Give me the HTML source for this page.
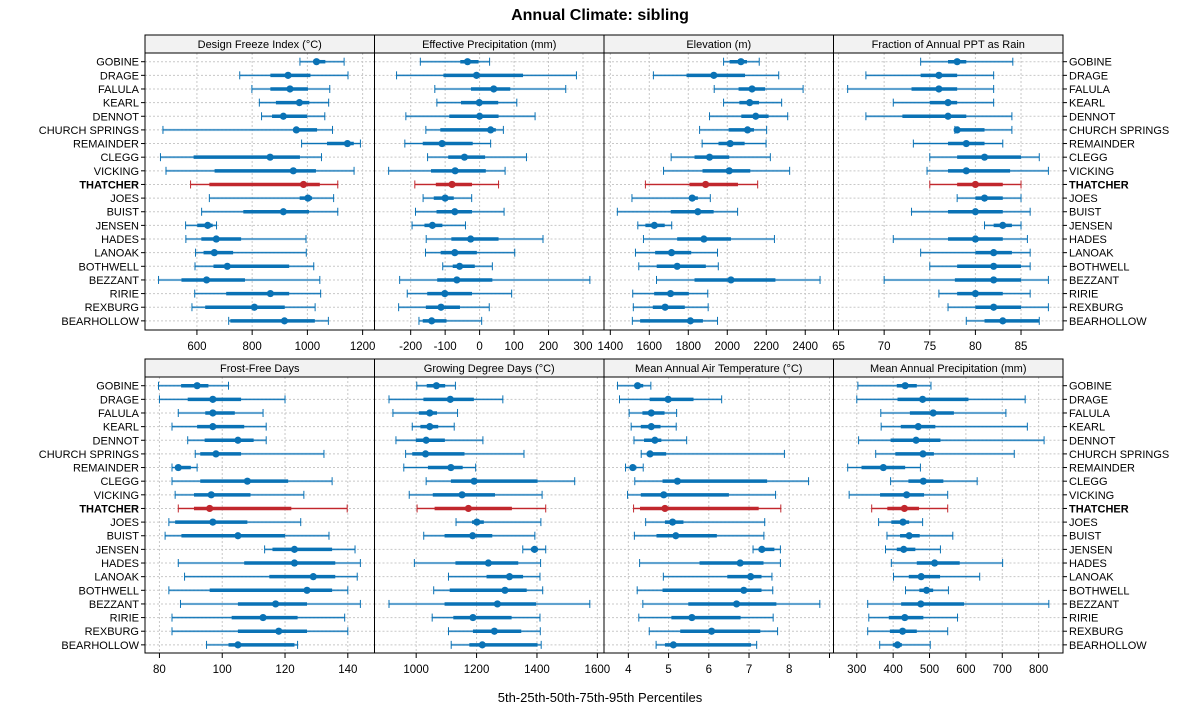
<!DOCTYPE html>
<html><head><meta charset="utf-8"><style>
body{margin:0;background:#fff;}
svg{display:block;font-family:"Liberation Sans",Arial,sans-serif;}
</style></head><body>
<svg id="chart" width="1200" height="725" viewBox="0 0 1200 725">
<text x="600" y="20" text-anchor="middle" font-size="16" font-weight="bold">Annual Climate: sibling</text>
<text x="600" y="702" text-anchor="middle" font-size="13">5th-25th-50th-75th-95th Percentiles</text>
</svg>
<script>
const siteNames = ["GOBINE","DRAGE","FALULA","KEARL","DENNOT","CHURCH SPRINGS","REMAINDER","CLEGG","VICKING","THATCHER","JOES","BUIST","JENSEN","HADES","LANOAK","BOTHWELL","BEZZANT","RIRIE","REXBURG","BEARHOLLOW"];
const highlightSite = "THATCHER";
const panelTitles = ["Design Freeze Index (°C)","Effective Precipitation (mm)","Elevation (m)","Fraction of Annual PPT as Rain","Frost-Free Days","Growing Degree Days (°C)","Mean Annual Air Temperature (°C)","Mean Annual Precipitation (mm)"];
const freezeIndex = [[973,1023,1033,1065,1133],[755,866,930,1011,1147],[799,866,937,1002,1081],[826,886,971,1007,1077],[834,872,913,999,1063],[477,950,960,1035,1091],[979,1071,1145,1168,1192],[468,588,865,973,1051],[488,664,949,1031,1169],[577,645,986,1045,1110],[645,972,1002,1017,1095],[617,768,913,1006,1110],[559,601,639,657,671],[560,616,670,760,995],[595,624,663,731,996],[593,660,710,934,1023],[461,544,635,774,1045],[592,706,866,934,1048],[582,630,808,918,1028],[715,721,917,1027,1076]];
const effPrecip = [[-172,-56,-35,-3,29],[-241,-105,-9,126,281],[-130,-25,41,89,250],[-124,-54,-1,54,108],[-214,-88,0,55,161],[-156,-114,32,47,69],[-217,-165,-109,-20,32],[-151,-91,-44,16,136],[-264,-141,-71,18,74],[-188,-127,-80,-22,55],[-164,-133,-100,-75,-23],[-186,-125,-72,-22,71],[-196,-160,-137,-108,-41],[-155,-82,-26,55,184],[-157,-113,-72,-8,102],[-107,-78,-58,-14,37],[-232,-123,-66,37,320],[-210,-152,-101,-22,93],[-235,-156,-112,-57,28],[-176,-165,-139,-96,6]];
const elevation = [[1981,2012,2070,2101,2164],[1621,1791,1931,2091,2264],[1933,2058,2127,2194,2389],[1981,2062,2115,2163,2279],[1909,2072,2146,2212,2310],[1858,2007,2104,2137,2202],[1871,1955,2015,2089,2199],[1712,1832,1909,2010,2221],[1673,1873,2010,2118,2320],[1580,1806,1889,2055,2156],[1511,1805,1820,1849,1913],[1436,1710,1849,1930,2053],[1541,1580,1626,1679,1715],[1570,1743,1880,2019,2242],[1529,1630,1714,1815,1950],[1546,1638,1743,1890,1954],[1637,1832,2019,2247,2476],[1515,1625,1709,1803,1900],[1518,1618,1681,1782,1902],[1513,1553,1811,1875,1950]];
const fracRain = [[74,77,78,79,84.1],[68,74,76,78,82],[66,73,76,78,82],[71,75,77,78,82],[68,72,77,79,84],[77.75,78,78,81,84],[73.2,77,79,81,83],[75,78,81,85,87],[74.7,77,79,83.8,88],[75,78,80,83,85],[78,80,81,83,85],[73,77,80,83,86],[81,82,83,84,85],[71,77,80,83,85.7],[74,80,82,84,86],[75,78,82,85,86],[70,77.75,82,85,88],[76,78,80,83,86],[77,80,82,85,88],[79,81,83,87,87]];
const frostFree = [[79.7,86.9,92,95.6,102],[80,89,97,106,120],[86,94.6,97,104,113],[84,92,97,107,114],[89,94.4,105,110,114],[91.4,93,98,106,132.4],[84,85,86,90,92],[84,93,108,121,135],[85,91,96.5,109,126],[86,91,96,122,139.8],[83,85,97,108,125],[81.8,87,105,120,134],[113.5,116,123,135,142.3],[86,107,123,136,144],[88,115,129,136,143],[83,96,127,135,140],[86.7,105,117,127,144],[84,103,113,124,139],[84,105,118,127,140],[95,102,105,123,124]];
const gdd = [[1002,1035,1067,1096,1130],[910,1024,1113,1191,1287],[923,1009,1045,1069,1137],[987,1014,1045,1073,1126],[933,999,1033,1095,1221],[965,987,1031,1160,1357],[959,1039,1115,1154,1197],[1033,1115,1192,1402,1525],[977,1055,1152,1261,1417],[1003,1061,1173,1317,1429],[1132,1185,1201,1224,1413],[1025,1094,1187,1252,1393],[1353,1380,1392,1402,1429],[994,1130,1239,1338,1412],[1107,1233,1309,1354,1410],[1058,1111,1294,1366,1419],[910,1094,1269,1397,1575],[1053,1123,1188,1316,1410],[1107,1188,1259,1348,1411],[1116,1176,1219,1402,1414]];
const airTemp = [[3.73,4.18,4.23,4.37,4.56],[3.78,4.53,4.99,5.62,6.32],[4.02,4.35,4.57,4.9,5.2],[4.07,4.31,4.57,4.8,5.19],[4.14,4.39,4.66,4.82,5.45],[4.32,4.46,4.54,4.94,7.88],[3.93,4.06,4.11,4.2,4.37],[4.16,4.85,5.22,7.45,8.48],[3.98,4.31,4.88,6.5,7.66],[4.13,4.29,4.91,7.24,7.79],[4.43,4.91,5.1,5.37,7.39],[4.15,4.7,5.18,6.2,7.37],[7.1,7.24,7.32,7.63,7.78],[4.28,5.77,6.78,7.36,7.78],[4.87,6.46,7.04,7.31,7.57],[4.22,4.85,6.87,7.31,7.59],[4.36,5.49,6.69,7.68,8.76],[4.26,5.07,5.58,6.79,7.6],[4.52,5.29,6.07,7.28,7.71],[4.69,4.91,5.12,7.05,7.19]];
const annPrecip = [[303,410,433,465,504],[300,412,481,607,763],[366,446,510,567,710],[367,421,469,516,769],[305,393,463,530,815],[352,406,482,512,733],[275,313,373,433,475],[393,442,483,538,631],[279,364,437,485,550],[341,384,431,471,550],[360,395,427,444,481],[383,419,444,473,564],[379,410,429,461,530],[395,465,514,583,701],[401,443,477,529,638],[434,472,492,510,552],[330,422,476,595,828],[333,388,432,483,577],[330,391,426,465,550],[363,399,412,424,502]];
const tickValues = [[600,800,1000,1200],[-200,-100,0,100,200,300],[1400,1600,1800,2000,2200,2400],[65,70,75,80,85],[80,100,120,140],[1000,1200,1400,1600],[4,5,6,7,8,9],[300,400,500,600,700,800]];
const tickLabels = [["600","800","1000","1200"],["-200","-100","0","100","200","300"],["1400","1600","1800","2000","2200","2400"],["65","70","75","80","85"],["80","100","120","140"],["1000","1200","1400","1600"],["4","5","6","7","8",""],["300","400","500","600","700","800"]];
const panelData = [freezeIndex,effPrecip,elevation,fracRain,frostFree,gdd,airTemp,annPrecip];

const domains = [[412,1243],[-305,361],[1367.6,2545],[64.45,89.6],[75.4,148.5],[862,1622],[3.395,9.1],[236,867]];
const colX = [145,374.5,604,833.5,1063];
const rowGeom = [{strip:35,top:53,bottom:330,first:61.7,step:13.64},{strip:359,top:377,bottom:653,first:385.7,step:13.64}];
const NS="http://www.w3.org/2000/svg";
const svg=document.getElementById('chart');
function mk(tag,attrs,parent){const e=document.createElementNS(NS,tag);for(const k in attrs)e.setAttribute(k,attrs[k]);(parent||svg).appendChild(e);return e;}
const BLUE="#0a72b5", BLUE_L="#5a9fcf", RED="#c1272d", RED_L="#d9696c";

for(let p=0;p<8;p++){
  const r=Math.floor(p/4), c=p%4, g=rowGeom[r];
  const x0=colX[c], x1=colX[c+1];
  const dom=domains[p];
  const sx=v=>x0+(v-dom[0])/(dom[1]-dom[0])*(x1-x0);
  const sy=i=>g.first+i*g.step;
  const grp=mk('g',{});
  
  
  const strip=mk('rect',{x:x0,y:g.strip,width:x1-x0,height:g.top-g.strip,fill:'#f2f2f2',stroke:'#000','stroke-width':1},grp);
  
  
  const st=mk('text',{x:(x0+x1)/2,y:g.strip+13,'text-anchor':'middle','font-size':11},grp);
  st.textContent=panelTitles[p];
  
  
  tickValues[p].forEach((t,k)=>{
    const x=sx(t);
    if(x>x0+1&&x<x1-1){const gl=mk('line',{x1:x,x2:x,y1:g.top,y2:g.bottom,stroke:'#c8c8c8','stroke-dasharray':'2,2','stroke-width':1},grp);
    
    }
    const tk=mk('line',{x1:x,x2:x,y1:g.bottom,y2:g.bottom+5,stroke:'#000'},grp);
    
    
    const tl=mk('text',{x:x,y:g.bottom+20,'text-anchor':'middle','font-size':11.5},grp);
    tl.textContent=tickLabels[p][k];
    
    
  });
  siteNames.forEach((s,i)=>{
    const hl=mk('line',{x1:x0,x2:x1,y1:sy(i),y2:sy(i),stroke:'#c8c8c8','stroke-dasharray':'2,2','stroke-width':1},grp);
    
    
  });
  panelData[p].forEach((d,i)=>{
    const hot=siteNames[i]===highlightSite;
    const col=hot?RED:BLUE, colL=hot?RED_L:BLUE_L;
    const y=sy(i);
    const sg=mk('g',{},grp);
    
    
    mk('line',{x1:sx(d[0]),x2:sx(d[4]),y1:y,y2:y,stroke:colL,'stroke-width':2.4,opacity:0.45},sg);
    mk('line',{x1:sx(d[0]),x2:sx(d[4]),y1:y,y2:y,stroke:col,'stroke-width':1},sg);
    [d[0],d[4]].forEach(v=>mk('line',{x1:sx(v),x2:sx(v),y1:y-4,y2:y+4,stroke:col,'stroke-width':1},sg));
    mk('line',{x1:sx(d[1]),x2:sx(d[3]),y1:y,y2:y,stroke:col,'stroke-width':3.5},sg);
    mk('circle',{cx:sx(d[2]),cy:y,r:3.6,fill:col},sg);
  });
  const fr=mk('rect',{x:x0,y:g.top,width:x1-x0,height:g.bottom-g.top,fill:'none',stroke:'#000','stroke-width':1},grp);
  
  
}
rowGeom.forEach((g,r)=>{
  siteNames.forEach((s,i)=>{
    const yc=g.first+i*g.step;
    const hot=s===highlightSite;
    const l=mk('text',{x:139,y:yc+4,'text-anchor':'end','font-size':11,'font-weight':hot?'bold':'normal'});
    l.textContent=s;
    
    
    const rl=mk('text',{x:1069,y:yc+4,'text-anchor':'start','font-size':11,'font-weight':hot?'bold':'normal'});
    rl.textContent=s;
    
    
    [[145,141],[1063,1067]].forEach(([a,b])=>{const t=mk('line',{x1:a,x2:b,y1:yc,y2:yc,stroke:'#000'});
      
      });
  });
});
</script>
</body></html>
